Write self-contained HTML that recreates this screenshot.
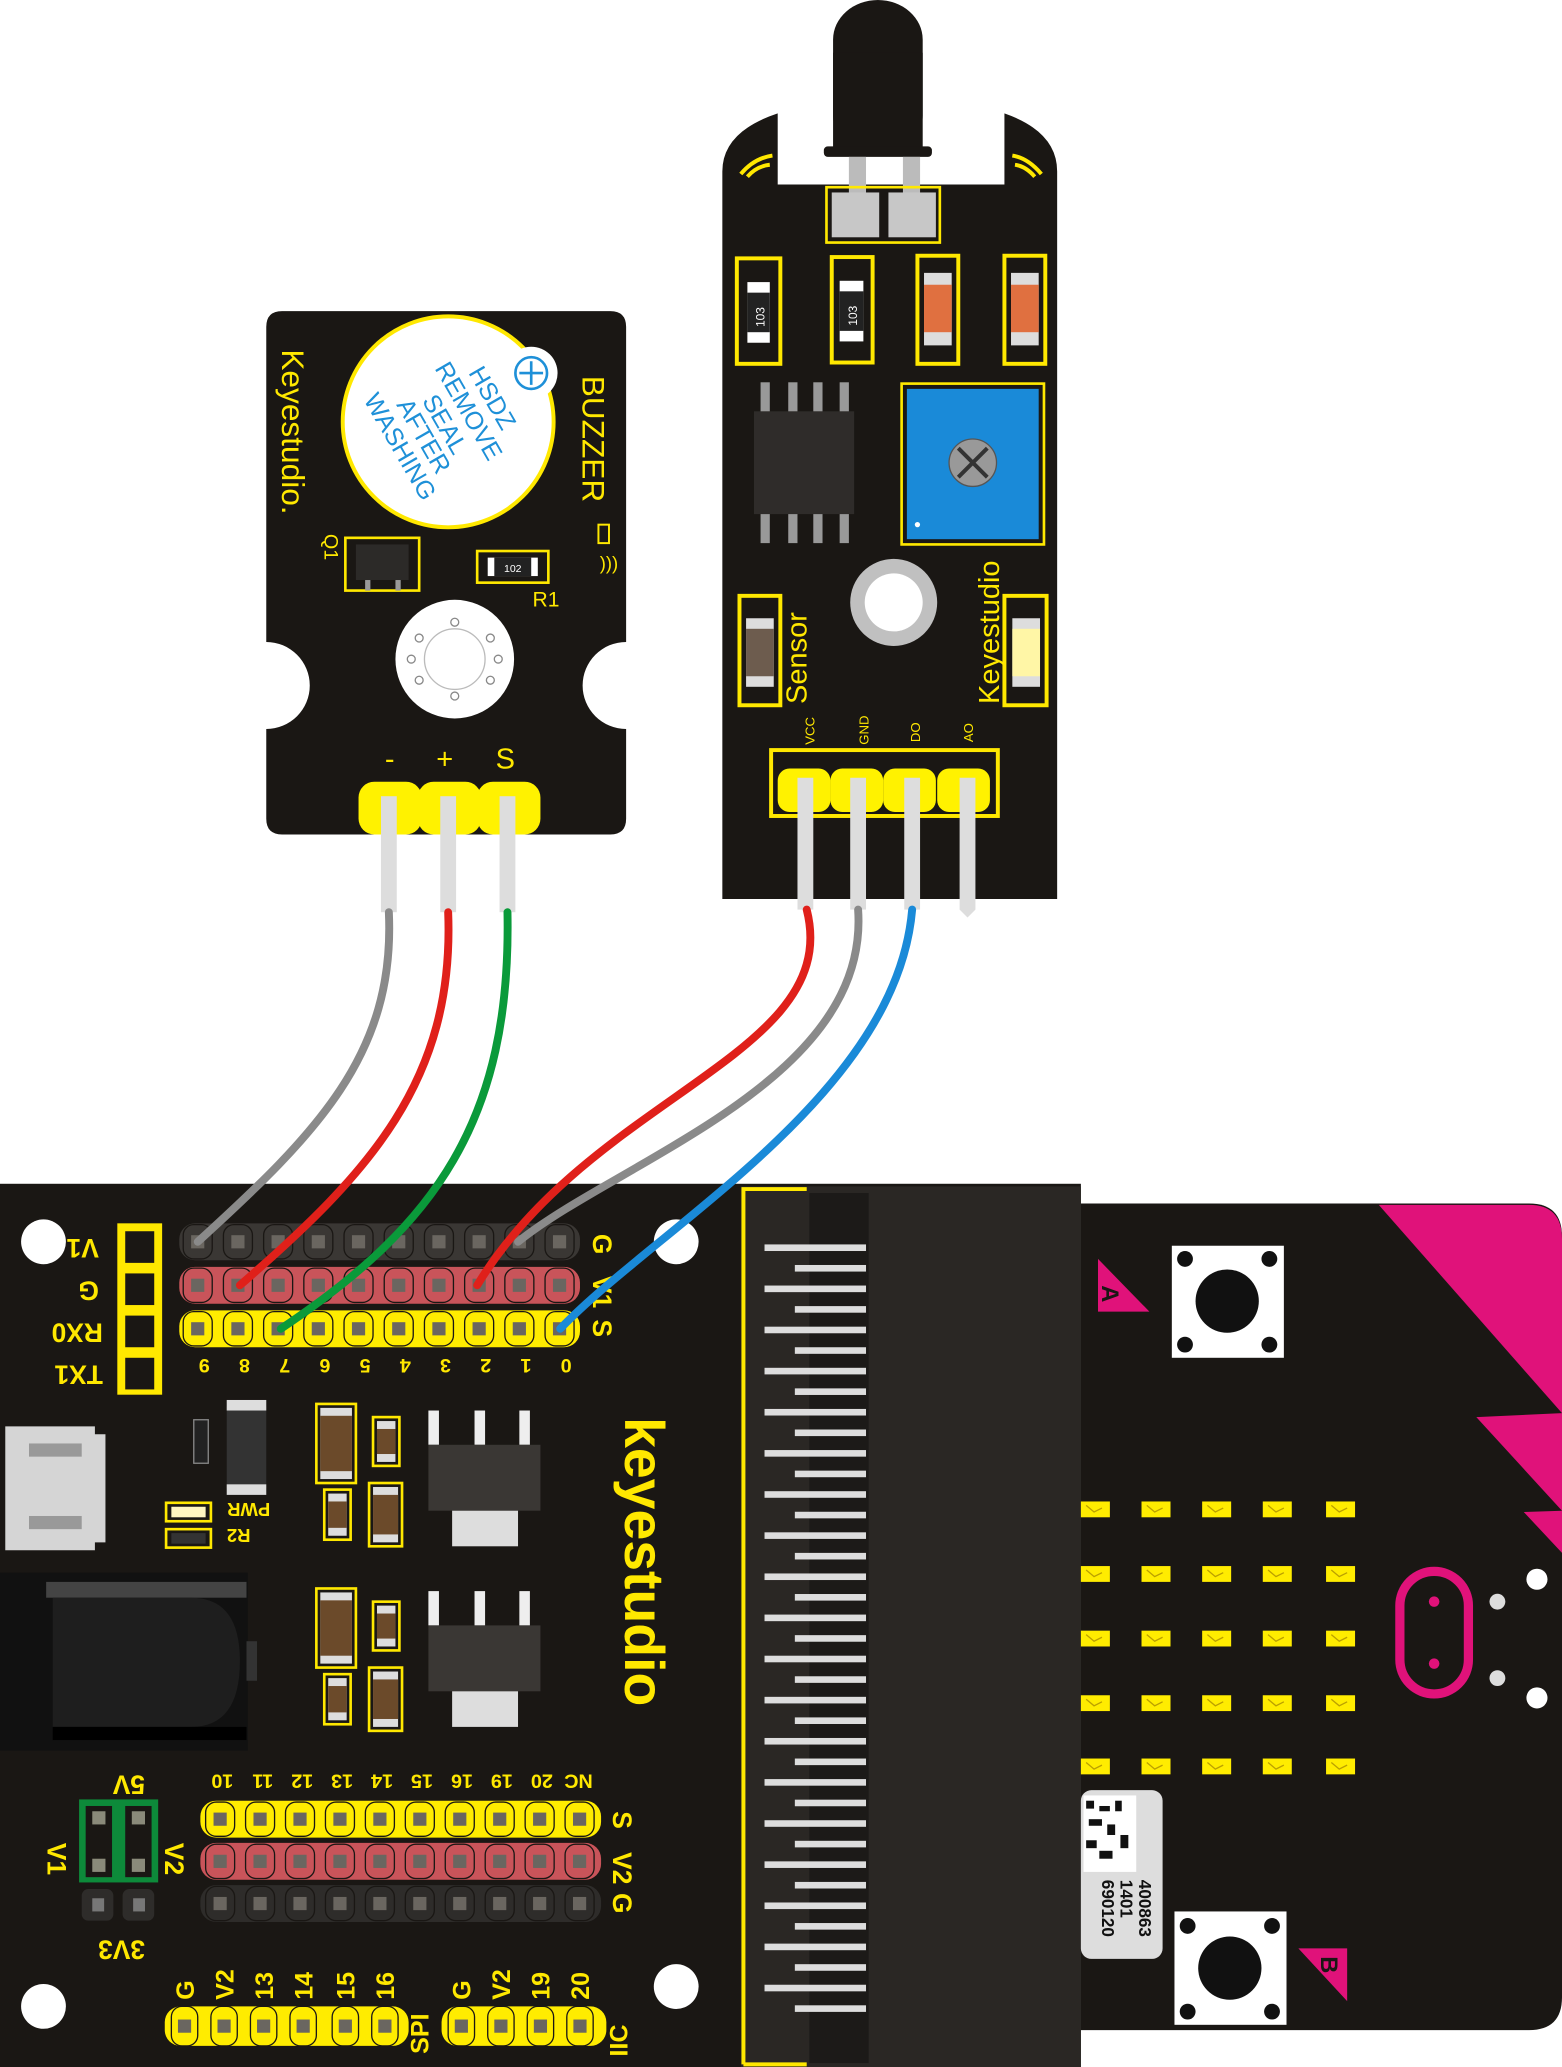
<!DOCTYPE html>
<html><head><meta charset="utf-8"><style>
html,body{margin:0;padding:0;background:#fff;}
svg{display:block;}
text{font-family:"Liberation Sans",sans-serif;}
</style></head><body>
<svg width="1562" height="2067" viewBox="0 0 1185 1568" preserveAspectRatio="none" xmlns="http://www.w3.org/2000/svg">
<rect width="1185" height="1568" fill="#fff"/>

<!-- ================= BUZZER ================= -->
<path d="M214 236 H463 Q475 236 475 248 V487 A33 33 0 0 0 475 553 V621 Q475 633 463 633 H214 Q202 633 202 621 V553 A33 33 0 0 0 202 487 V248 Q202 236 214 236Z" fill="#1a1714"/>
<circle cx="340" cy="320" r="80" fill="#fff" stroke="#ffe800" stroke-width="3"/>
<circle cx="403" cy="283" r="20" fill="#fff"/>
<circle cx="403" cy="283" r="12" fill="none" stroke="#1e90d8" stroke-width="2"/>
<path d="M403 274V292M394 283H412" stroke="#1e90d8" stroke-width="2"/>
<g fill="#1e90d8" font-size="19" text-anchor="middle">
<text transform="translate(368,305) rotate(60)">HSDZ</text>
<text transform="translate(350,315) rotate(60)">REMOVE</text>
<text transform="translate(332,325) rotate(60)">SEAL</text>
<text transform="translate(316,334) rotate(60)">AFTER</text>
<text transform="translate(298,342) rotate(60)">WASHING</text>
</g>
<text transform="translate(214,265) rotate(90)" fill="#ffe800" font-size="24">Keyestudio.</text>
<text transform="translate(442,285) rotate(90)" fill="#ffe800" font-size="24">BUZZER</text>
<rect x="454" y="398" width="8" height="14" fill="none" stroke="#ffe800" stroke-width="1.5"/>
<text x="455" y="432" fill="#ffe800" font-size="14">)))</text>
<rect x="262" y="408" width="56" height="40" fill="none" stroke="#ffe800" stroke-width="2"/>
<rect x="270" y="413" width="40" height="27" fill="#2c2a28"/>
<rect x="277" y="440" width="4" height="8" fill="#999"/><rect x="300" y="440" width="4" height="8" fill="#999"/>
<text transform="translate(246,405) rotate(90)" fill="#ffe800" font-size="15">Q1</text>
<rect x="362" y="418" width="54" height="24" fill="none" stroke="#ffe800" stroke-width="2"/>
<rect x="370" y="423" width="38" height="14" fill="#fff"/><rect x="375" y="423" width="28" height="14" fill="#222"/>
<text x="389" y="434" fill="#fff" font-size="8" text-anchor="middle">102</text>
<text x="404" y="460" fill="#ffe800" font-size="16">R1</text>
<circle cx="345" cy="500" r="45" fill="#fff"/>
<circle cx="345" cy="500" r="23" fill="none" stroke="#bbb" stroke-width="1"/>
<g fill="none" stroke="#888" stroke-width="1"><circle cx="345" cy="472" r="3"/><circle cx="345" cy="528" r="3"/><circle cx="318" cy="484" r="3"/><circle cx="372" cy="484" r="3"/><circle cx="318" cy="516" r="3"/><circle cx="372" cy="516" r="3"/><circle cx="312" cy="500" r="3"/><circle cx="378" cy="500" r="3"/></g>
<g fill="#ffe800" font-size="22"><text x="292" y="583">-</text><text x="331" y="583">+</text><text x="376" y="583">S</text></g>
<g fill="#fff200"><rect x="272" y="593" width="48" height="40" rx="12"/><rect x="317" y="593" width="48" height="40" rx="12"/><rect x="362" y="593" width="48" height="40" rx="12"/></g>
<rect x="289" y="604" width="12" height="88" fill="#ddd"/>
<rect x="334" y="604" width="12" height="88" fill="#ddd"/>
<rect x="379" y="604" width="12" height="88" fill="#ddd"/>

<!-- ================= FLAME SENSOR ================= -->
<path d="M548 682 V130 Q548 100 590 86 V140 H762 V86 Q802 100 802 130 V682Z" fill="#1a1714"/>
<rect x="632" y="0" width="68" height="118" rx="34" ry="30" fill="#1a1714"/>
<rect x="632" y="40" width="68" height="78" fill="#1a1714"/>
<rect x="625" y="111" width="82" height="8" rx="3" fill="#1a1714"/>
<rect x="644" y="119" width="13" height="30" fill="#bbb"/><rect x="685" y="119" width="13" height="30" fill="#bbb"/>
<rect x="627" y="142" width="86" height="42" fill="none" stroke="#ffe800" stroke-width="2"/>
<rect x="631" y="146" width="36" height="34" fill="#c7c7c7"/><rect x="674" y="146" width="36" height="34" fill="#c7c7c7"/>
<g fill="none" stroke="#ffe800" stroke-width="3"><path d="M562 132 Q572 120 586 118"/><path d="M567 134 Q574 126 584 125"/><path d="M790 132 Q780 120 768 118"/><path d="M785 134 Q778 126 770 125"/></g>
<g fill="none" stroke="#ffe800" stroke-width="3">
<rect x="559" y="196" width="33" height="80"/><rect x="631" y="195" width="31" height="80"/><rect x="696" y="194" width="31" height="82"/><rect x="762" y="194" width="31" height="82"/></g>
<rect x="567" y="214" width="17" height="46" fill="#fff"/><rect x="567" y="222" width="17" height="30" fill="#222"/>
<rect x="637" y="213" width="18" height="46" fill="#fff"/><rect x="637" y="221" width="18" height="30" fill="#222"/>
<text transform="translate(580,248) rotate(-90)" fill="#fff" font-size="9">103</text>
<text transform="translate(650,247) rotate(-90)" fill="#fff" font-size="9">103</text>
<rect x="701" y="207" width="21" height="55" fill="#ddd"/><rect x="701" y="216" width="21" height="36" fill="#e07040"/>
<rect x="767" y="207" width="21" height="55" fill="#ddd"/><rect x="767" y="216" width="21" height="36" fill="#e07040"/>
<g fill="#999"><rect x="577" y="290" width="7" height="24"/><rect x="598" y="290" width="7" height="24"/><rect x="617" y="290" width="7" height="24"/><rect x="637" y="290" width="7" height="24"/>
<rect x="577" y="388" width="7" height="24"/><rect x="598" y="388" width="7" height="24"/><rect x="617" y="388" width="7" height="24"/><rect x="637" y="388" width="7" height="24"/></g>
<rect x="572" y="312" width="76" height="78" fill="#2f2c2a"/>
<rect x="684" y="291" width="108" height="122" fill="none" stroke="#ffe800" stroke-width="2"/>
<rect x="688" y="295" width="100" height="114" fill="#1a8ad8"/>
<circle cx="738" cy="351" r="18" fill="#999" stroke="#555" stroke-width="1"/>
<path d="M727 340L749 362M749 340L727 362" stroke="#333" stroke-width="3"/>
<circle cx="696" cy="398" r="2" fill="#fff"/>
<circle cx="678" cy="457" r="33" fill="#c0c0c0"/><circle cx="678" cy="457" r="22" fill="#fff"/>
<rect x="561" y="452" width="31" height="83" fill="none" stroke="#ffe800" stroke-width="3"/>
<rect x="566" y="469" width="21" height="52" fill="#ddd"/><rect x="566" y="477" width="21" height="36" fill="#6d5c4e"/>
<text transform="translate(612,534) rotate(-90)" fill="#ffe800" font-size="22">Sensor</text>
<text transform="translate(758,534) rotate(-90)" fill="#ffe800" font-size="22">Keyestudio</text>
<rect x="762" y="452" width="32" height="83" fill="none" stroke="#ffe800" stroke-width="3"/>
<rect x="768" y="469" width="21" height="52" fill="#ddd"/><rect x="768" y="477" width="21" height="36" fill="#fff6a6"/>
<g fill="#ffe800" font-size="10"><text transform="translate(618,565) rotate(-90)">VCC</text><text transform="translate(659,565) rotate(-90)">GND</text><text transform="translate(698,563) rotate(-90)">DO</text><text transform="translate(738,563) rotate(-90)">AO</text></g>
<rect x="585" y="569" width="172" height="50" fill="none" stroke="#ffe800" stroke-width="3"/>
<g fill="#fff200"><rect x="590" y="583" width="40" height="33" rx="9"/><rect x="630" y="583" width="40" height="33" rx="9"/><rect x="670" y="583" width="40" height="33" rx="9"/><rect x="711" y="583" width="40" height="33" rx="9"/></g>
<rect x="605" y="590" width="12" height="100" fill="#ddd"/>
<rect x="645" y="590" width="12" height="100" fill="#ddd"/>
<rect x="686" y="590" width="12" height="100" fill="#ddd"/>
<path d="M728 590 H740 V690 L734 696 L728 690Z" fill="#ddd"/>

<!-- ================= EXPANSION BOARD ================= -->
<rect x="0" y="898" width="820" height="670" fill="#1a1714"/>
<rect x="562" y="900" width="258" height="668" fill="#2a2724"/>
<rect x="614" y="905" width="45" height="660" fill="#1c1a18"/>
<path d="M564 1566 V902 H612" fill="none" stroke="#ffe800" stroke-width="3"/>
<path d="M564 1566 H612" stroke="#ffe800" stroke-width="3"/>
<g fill="#ddd" id="fingers"></g>
<circle cx="33" cy="942" r="17" fill="#fff"/><circle cx="513" cy="942" r="17" fill="#fff"/>
<circle cx="33" cy="1522" r="17" fill="#fff"/><circle cx="513" cy="1507" r="17" fill="#fff"/>
<rect x="89" y="928" width="34" height="130" fill="#ffe800"/>
<g fill="#1a1714"><rect x="95" y="934" width="22" height="24"/><rect x="95" y="966" width="22" height="24"/><rect x="95" y="998" width="22" height="24"/><rect x="95" y="1030" width="22" height="24"/></g>
<g fill="#ffe800" font-size="20" font-weight="bold">
<text transform="translate(75,940) rotate(180)">V1</text><text transform="translate(75,972) rotate(180)">G</text><text transform="translate(78,1004) rotate(180)">RX0</text><text transform="translate(78,1036) rotate(180)">TX1</text></g>
<g id="hdr1"></g>
<g fill="#ffe800" font-size="15" font-weight="bold" text-anchor="middle" id="lbl1"></g>
<g fill="#ffe800" font-size="20" font-weight="bold"><text transform="translate(450,936) rotate(90)">G</text><text transform="translate(450,968) rotate(90)">V1</text><text transform="translate(450,1001) rotate(90)">S</text></g>
<path d="M4 1082 H72 V1088 H80 V1170 H72 V1176 H4Z" fill="#d5d5d5"/>
<rect x="22" y="1095" width="40" height="10" fill="#999"/><rect x="22" y="1150" width="40" height="10" fill="#999"/>
<rect x="147" y="1077" width="11" height="33" fill="#222" stroke="#888"/>
<rect x="172" y="1067" width="30" height="62" fill="#333"/><rect x="172" y="1062" width="30" height="8" fill="#ddd"/><rect x="172" y="1126" width="30" height="8" fill="#ddd"/>
<rect x="126" y="1140" width="34" height="14" fill="none" stroke="#ffe800" stroke-width="2"/><rect x="130" y="1143" width="26" height="8" fill="#fff6c0"/>
<rect x="126" y="1160" width="34" height="14" fill="none" stroke="#ffe800" stroke-width="2"/><rect x="130" y="1163" width="26" height="8" fill="#333"/>
<text transform="translate(205,1140) rotate(180)" fill="#ffe800" font-size="14" font-weight="bold">PWR</text>
<text transform="translate(190,1160) rotate(180)" fill="#ffe800" font-size="14" font-weight="bold">R2</text>
<g id="caps"></g>
<rect x="325" y="1070" width="8" height="26" fill="#eee"/><rect x="360" y="1070" width="8" height="26" fill="#eee"/><rect x="394" y="1070" width="8" height="26" fill="#eee"/>
<rect x="325" y="1096" width="85" height="50" fill="#3a3734"/><rect x="343" y="1146" width="50" height="27" fill="#ddd"/>
<rect x="325" y="1207" width="8" height="26" fill="#eee"/><rect x="360" y="1207" width="8" height="26" fill="#eee"/><rect x="394" y="1207" width="8" height="26" fill="#eee"/>
<rect x="325" y="1233" width="85" height="50" fill="#3a3734"/><rect x="343" y="1283" width="50" height="27" fill="#ddd"/>
<rect x="0" y="1193" width="188" height="135" fill="#111"/>
<rect x="35" y="1200" width="152" height="12" fill="#444"/>
<path d="M40 1212 H145 Q182 1212 182 1260 Q182 1310 145 1310 H40Z" fill="#1e1e1e"/>
<rect x="40" y="1310" width="147" height="10" fill="#000"/><rect x="187" y="1245" width="8" height="30" fill="#333"/>
<text transform="translate(474,1075) rotate(90)" fill="#ffe800" font-size="42" font-weight="bold">keyestudio</text>
<rect x="60" y="1365" width="60" height="63" fill="#0d8a3a"/>
<rect x="65" y="1370" width="20" height="54" fill="#1a1714"/><rect x="95" y="1370" width="20" height="54" fill="#1a1714"/>
<g fill="#8a8a7a"><rect x="70" y="1374" width="10" height="10"/><rect x="70" y="1410" width="10" height="10"/><rect x="100" y="1374" width="10" height="10"/><rect x="100" y="1410" width="10" height="10"/></g>
<rect x="62" y="1433" width="24" height="24" rx="5" fill="#2e2c2a"/><rect x="93" y="1433" width="24" height="24" rx="5" fill="#2e2c2a"/>
<rect x="70" y="1440" width="9" height="10" fill="#777"/><rect x="101" y="1440" width="9" height="10" fill="#777"/>
<g fill="#ffe800" font-size="20" font-weight="bold">
<text transform="translate(110,1347) rotate(180)">5V</text>
<text transform="translate(36,1398) rotate(90)">V1</text>
<text transform="translate(125,1398) rotate(90)">V2</text>
<text transform="translate(110,1472) rotate(180)">3V3</text>
<text transform="translate(465,1374) rotate(90)">S</text>
<text transform="translate(465,1405) rotate(90)">V2</text>
<text transform="translate(465,1436) rotate(90)">G</text>
</g>
<g id="hdr2"></g>
<g id="lbl2" fill="#ffe800" font-size="15" font-weight="bold"></g>
<g id="bot"></g>

<!-- ================= MICRO:BIT ================= -->
<path d="M820 913 H1160 Q1185 913 1185 938 V1515 Q1185 1540 1160 1540 H820Z" fill="#1a1714"/>
<path d="M1046 914 H1160 Q1185 914 1185 940 V1072 Z" fill="#e0127a"/>
<path d="M1120 1075 L1185 1072 V1146 Z" fill="#e0127a"/>
<path d="M1156 1147 L1185 1146 V1178 Z" fill="#e0127a"/>
<rect x="1062" y="1192" width="52" height="93" rx="26" fill="none" stroke="#e0127a" stroke-width="7"/>
<circle cx="1088" cy="1215" r="4" fill="#e0127a"/><circle cx="1088" cy="1262" r="4" fill="#e0127a"/>
<circle cx="1136" cy="1215" r="6" fill="#ddd"/><circle cx="1136" cy="1273" r="6" fill="#ddd"/>
<circle cx="1166" cy="1198" r="8" fill="#fff"/><circle cx="1166" cy="1288" r="8" fill="#fff"/>
<rect x="889" y="945" width="85" height="85" fill="#fff"/><circle cx="931" cy="987" r="24" fill="#111"/>
<g fill="#111"><circle cx="899" cy="955" r="6"/><circle cx="963" cy="955" r="6"/><circle cx="899" cy="1020" r="6"/><circle cx="963" cy="1020" r="6"/></g>
<rect x="891" y="1450" width="85" height="86" fill="#fff"/><circle cx="933" cy="1493" r="24" fill="#111"/>
<g fill="#111"><circle cx="901" cy="1461" r="6"/><circle cx="965" cy="1461" r="6"/><circle cx="901" cy="1526" r="6"/><circle cx="965" cy="1526" r="6"/></g>
<path d="M833 955 L872 995 H833Z" fill="#e0127a"/>
<text transform="translate(836,975) rotate(90)" fill="#1a1714" font-size="18" font-weight="bold">A</text>
<path d="M985 1478 H1022 V1518Z" fill="#e0127a"/>
<text transform="translate(1002,1484) rotate(90)" fill="#1a1714" font-size="18" font-weight="bold">B</text>
<rect x="820" y="1358" width="62" height="128" rx="8" fill="#ddd"/>
<rect x="822" y="1362" width="40" height="58" fill="#fff"/>
<g fill="#111"><rect x="824" y="1366" width="6" height="6"/><rect x="834" y="1370" width="8" height="4"/><rect x="846" y="1366" width="5" height="8"/><rect x="826" y="1380" width="10" height="5"/><rect x="840" y="1384" width="6" height="8"/><rect x="824" y="1396" width="8" height="6"/><rect x="850" y="1392" width="6" height="10"/><rect x="834" y="1404" width="10" height="6"/></g>
<g fill="#111" font-size="13" font-weight="bold">
<text transform="translate(864,1426) rotate(90)">400863</text>
<text transform="translate(850,1426) rotate(90)">1401</text>
<text transform="translate(836,1426) rotate(90)">690120</text></g>
<g id="leds"></g>

<!-- ================= WIRES ================= -->
<g fill="none" stroke-width="6" stroke-linecap="round">
<path d="M295 692 C300 800 240 860 150 942" stroke="#8a8a8a"/>
<path d="M340 692 C345 820 280 890 182 975" stroke="#e0201a"/>
<path d="M385 692 C388 850 330 930 213 1008" stroke="#0a9a3a"/>
<path d="M612 690 C640 800 450 830 362 975" stroke="#e0201a"/>
<path d="M651 690 C660 820 470 880 393 942" stroke="#8a8a8a"/>
<path d="M692 690 C680 830 500 930 425 1008" stroke="#1a8ad8"/>
</g>
<script>
var NS="http://www.w3.org/2000/svg";
function el(p,t,a){var e=document.createElementNS(NS,t);for(var k in a)e.setAttribute(k,a[k]);p.appendChild(e);return e;}
var f=document.getElementById('fingers');
for(var i=0;i<38;i++){var y=944+i*15.6;var long=i%2==0;el(f,'rect',{x:long?580:603,y:y,width:long?77:54,height:5,fill:'#ddd'});}
var h1=document.getElementById('hdr1');
var cols=[];for(var i=0;i<10;i++)cols.push(150+i*30.5);
var rows=[[942,'#3a3734'],[975,'#c9545a'],[1008,'#ffec00']];
rows.forEach(function(r){el(h1,'rect',{x:136,y:r[0]-14,width:304,height:28,rx:12,fill:r[1]});cols.forEach(function(x){el(h1,'rect',{x:x-11,y:r[0]-13,width:22,height:26,rx:8,fill:r[1],stroke:'#1a1714','stroke-width':1});el(h1,'rect',{x:x-5,y:r[0]-5,width:10,height:10,fill:'#6a6660'});});});
var l1=document.getElementById('lbl1');var nm=['9','8','7','6','5','4','3','2','1','0'];
cols.forEach(function(x,i){var t=el(l1,'text',{transform:'translate('+(x+5)+',1031) rotate(180)'});t.textContent=nm[i];});
var h2=document.getElementById('hdr2');var cols2=[];for(var i=0;i<10;i++)cols2.push(167+i*30.3);
[[1380,'#ffec00'],[1412,'#c9545a'],[1444,'#2e2c2a']].forEach(function(r){el(h2,'rect',{x:152,y:r[0]-14,width:304,height:28,rx:12,fill:r[1]});cols2.forEach(function(x){el(h2,'rect',{x:x-11,y:r[0]-13,width:22,height:26,rx:8,fill:r[1],stroke:'#1a1714','stroke-width':1});el(h2,'rect',{x:x-5,y:r[0]-5,width:10,height:10,fill:'#6a6660'});});});
var l2=document.getElementById('lbl2');var nm2=['10','11','12','13','14','15','16','19','20','NC'];
cols2.forEach(function(x,i){var t=el(l2,'text',{transform:'translate('+(x+10)+',1346) rotate(180)'});t.textContent=nm2[i];});
var b=document.getElementById('bot');
var bx=[140,170,200,230,262,292,350,380,410,440];var bl=['G','V2','13','14','15','16','G','V2','19','20'];
el(b,'rect',{x:125,y:1522,width:185,height:30,rx:12,fill:'#ffec00'});el(b,'rect',{x:335,y:1522,width:125,height:30,rx:12,fill:'#ffec00'});
bx.forEach(function(x,i){el(b,'rect',{x:x-10,y:1522,width:20,height:30,rx:8,fill:'#ffec00',stroke:'#1a1714','stroke-width':1});el(b,'rect',{x:x-5,y:1532,width:10,height:10,fill:'#6a6660'});var t=el(b,'text',{transform:'translate('+(x+7)+',1517) rotate(-90)',fill:'#ffe800','font-size':'19','font-weight':'bold'});t.textContent=bl[i];});
var t=el(b,'text',{transform:'translate(325,1558) rotate(-90)',fill:'#ffe800','font-size':'19','font-weight':'bold'});t.textContent='SPI';
t=el(b,'text',{transform:'translate(476,1560) rotate(-90)',fill:'#ffe800','font-size':'19','font-weight':'bold'});t.textContent='IIC';
var c=document.getElementById('caps');
function cap(x,y,w,h){el(c,'rect',{x:x,y:y,width:w,height:h,fill:'none',stroke:'#ffe800','stroke-width':2});el(c,'rect',{x:x+3,y:y+3,width:w-6,height:h-6,fill:'#ddd'});el(c,'rect',{x:x+3,y:y+9,width:w-6,height:h-18,fill:'#6b4a2a'});}
cap(240,1065,30,60);cap(283,1075,20,37);cap(246,1130,20,38);cap(280,1125,25,48);
cap(240,1205,30,60);cap(283,1215,20,37);cap(246,1270,20,38);cap(280,1265,25,48);
var L=document.getElementById('leds');
[830,876,922,968,1016].forEach(function(x){[1145,1194,1243,1292,1340].forEach(function(y){el(L,'rect',{x:x-10,y:y-6,width:22,height:12,fill:'#ffec00'});el(L,'path',{d:'M'+(x-6)+' '+(y-3)+'l6 5 6-3',stroke:'#bba000','stroke-width':1,fill:'none'});});});
</script>
</svg>
</body></html>
